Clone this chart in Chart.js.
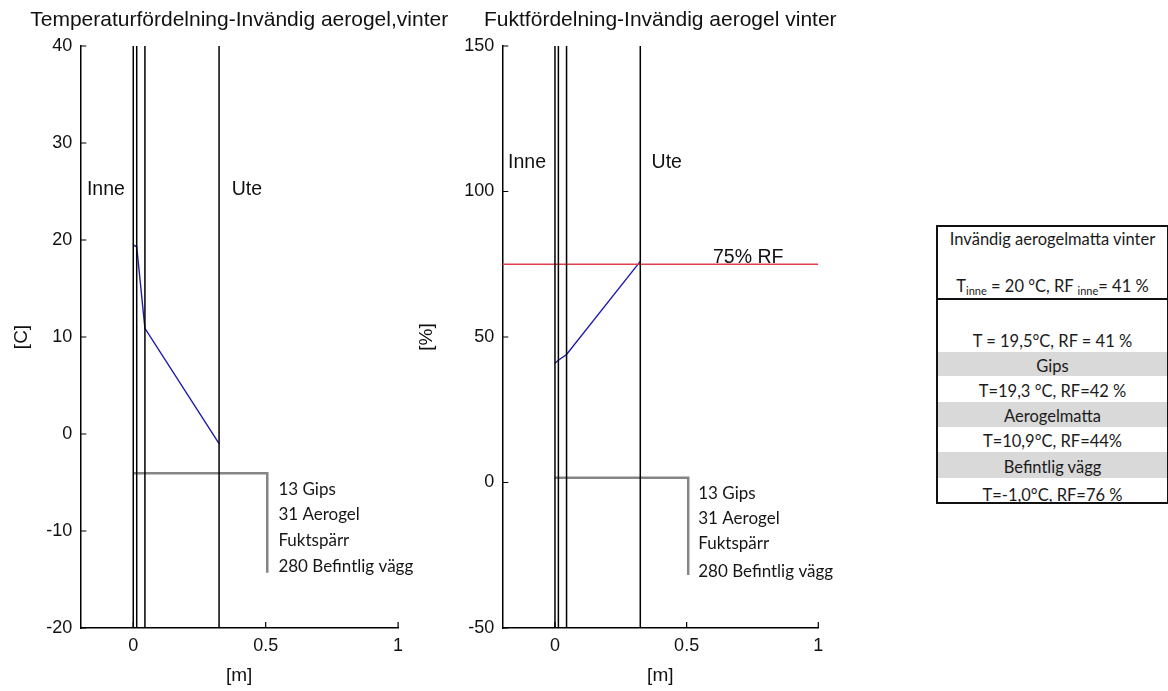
<!DOCTYPE html>
<html>
<head>
<meta charset="utf-8">
<script src="https://cdn.jsdelivr.net/npm/chart.js@4.4.1/dist/chart.umd.min.js"></script>
<style>
  html, body { margin: 0; padding: 0; background: #fff; }
  body { position: relative; width: 1168px; height: 691px; overflow: hidden; }
  canvas { position: absolute; top: 0; }
  #tempChart { left: 0; }
  #rhChart { left: 405px; }
  #summary {
    position: absolute; left: 936px; top: 225px; width: 233px;
    border: 2px solid #111; box-sizing: border-box;
    font-family: Lato, 'Open Sans', sans-serif; font-size: 16.5px; color: #1b1b1b;
    text-align: center;
  }
  #summary .row { position: relative; white-space: nowrap; overflow: hidden; }
  #summary .row span { position: relative; display: block; }
  #summary .band { background: #d9d9d9; }
  #summary .rule { height: 2px; background: #111; }
  #summary sub { font-size: 11px; vertical-align: -3px; line-height: 0; }
</style>
</head>
<body>
<canvas id="tempChart" width="460" height="691"></canvas>
<canvas id="rhChart" width="500" height="691"></canvas>
<div id="summary"></div>

<script>
// Boundaries through the wall [m]: inner face, gypsum/aerogel, aerogel/vapour barrier, outer face
const layerEdges = [0, 0.013, 0.044, 0.324];
// Temperature [°C] and relative humidity [%] at each boundary
const tempProfile = [19.5, 19.3, 10.9, -1.0];
const rhProfile = [41, 42, 44, 76];
// Critical humidity level [%]
const rhLimit = 75;
// Indoor climate
const indoorTemp = 20;
const indoorRh = 41;
// Layer names in the summary table and the layer key in the plots
const layerNames = ['Gips', 'Aerogelmatta', 'Befintlig vägg'];
const layerKey = ['13 Gips', '31 Aerogel', 'Fuktspärr', '280 Befintlig vägg'];
// Axis ticks
const xTicks = [0, 0.5, 1];
const tempTicks = [-20, -10, 0, 10, 20, 30, 40];
const rhTicks = [-50, 0, 50, 100, 150];

const PLOT_FONT = "'Liberation Sans', Arial, sans-serif";
const NOTE_FONT = "Lato, 'Open Sans', sans-serif";
const INK = '#111';

// Tick marks drawn on the inside of the axes
const innerTicks = {
  id: 'innerTicks',
  afterDraw(chart) {
    const { ctx, chartArea: a, scales: { x, y } } = chart;
    const len = 6;
    ctx.save();
    ctx.strokeStyle = '#000';
    ctx.lineWidth = 1.2;
    ctx.beginPath();
    y.ticks.forEach(t => {
      const py = y.getPixelForValue(t.value);
      ctx.moveTo(a.left, py); ctx.lineTo(a.left + len, py);
    });
    x.ticks.forEach(t => {
      const px = x.getPixelForValue(t.value);
      ctx.moveTo(px, a.bottom); ctx.lineTo(px, a.bottom - len);
    });
    ctx.stroke();
    ctx.restore();
  }
};

// Plot title centred over the axes, plus free text placed in data coordinates
function textLayer(title, items) {
  return {
    id: 'textLayer',
    afterDatasetsDraw(chart) {
      const { ctx, chartArea: a, scales: { x, y } } = chart;
      ctx.save();
      ctx.font = `21px ${PLOT_FONT}`;
      ctx.fillStyle = INK;
      ctx.textAlign = 'center';
      ctx.textBaseline = 'middle';
      ctx.fillText(title, (a.left + a.right) / 2, 20);
      items.forEach(it => {
        ctx.font = it.font;
        ctx.fillStyle = it.color || INK;
        ctx.textAlign = it.align || 'left';
        ctx.textBaseline = it.baseline || 'middle';
        ctx.fillText(it.text, x.getPixelForValue(it.x), y.getPixelForValue(it.y) + (it.dy || 0));
      });
      ctx.restore();
    }
  };
}

function line(points, color, width) {
  return { data: points, borderColor: color, borderWidth: width, showLine: true, pointRadius: 0, fill: false };
}

// Boundary lines across the full height of the plot
function edgeLines(yMin, yMax) {
  return layerEdges.map(e => line([{ x: e, y: yMin }, { x: e, y: yMax }], '#000', 1.5));
}

function profile(values) {
  return layerEdges.map((e, i) => ({ x: e, y: values[i] }));
}

// Leader line to the layer key
function keyBracket(yTop, yBottom) {
  return line([{ x: 0, y: yTop }, { x: 0.506, y: yTop }, { x: 0.506, y: yBottom }], '#858585', 2.5);
}

function keyText(x, ys) {
  return layerKey.map((t, i) => ({ text: t, x, y: ys[i], font: `17px ${NOTE_FONT}`, color: '#161616' }));
}

function buildChart(el, o) {
  return new Chart(el, {
    type: 'scatter',
    data: { datasets: o.datasets },
    options: {
      responsive: false,
      animation: false,
      devicePixelRatio: 1,
      locale: 'en-US',
      events: [],
      layout: { padding: { left: 0, top: 46, bottom: 0, right: o.padRight } },
      elements: { point: { radius: 0 }, line: { tension: 0 } },
      plugins: {
        legend: { display: false },
        tooltip: { enabled: false },
        title: { display: false }
      },
      scales: {
        x: {
          type: 'linear', min: -0.2, max: 1,
          afterBuildTicks: s => { s.ticks = xTicks.map(v => ({ value: v })); },
          afterFit: s => { s.height = 63; },
          grid: { display: false, drawTicks: false },
          border: { display: true, color: '#000', width: 1.5 },
          ticks: {
            color: INK, padding: 7, maxRotation: 0, autoSkip: false,
            font: { family: PLOT_FONT, size: 18 },
            callback: v => String(v)
          },
          title: { display: true, text: '[m]', color: INK, font: { family: PLOT_FONT, size: 19 }, padding: { top: 0, bottom: 3.6 } }
        },
        y: {
          type: 'linear', min: o.ticks[0], max: o.ticks[o.ticks.length - 1],
          afterBuildTicks: s => { s.ticks = o.ticks.map(v => ({ value: v })); },
          afterFit: s => { s.width = o.yWidth; },
          grid: { display: false, drawTicks: false },
          border: { display: true, color: '#000', width: 1.5 },
          ticks: {
            color: INK, padding: 8, autoSkip: false,
            font: { family: PLOT_FONT, size: 18 },
            callback: v => String(v)
          },
          title: { display: true, text: o.yTitle, color: INK, font: { family: PLOT_FONT, size: 19 }, padding: { top: 10.3, bottom: 0 } }
        }
      }
    },
    plugins: [innerTicks, textLayer(o.title, o.texts)]
  });
}

const labelFont = `19.5px ${PLOT_FONT}`;

// Temperature through the wall
buildChart(document.getElementById('tempChart'), {
  title: 'Temperaturfördelning-Invändig aerogel,vinter',
  yTitle: '[C]',
  ticks: tempTicks,
  yWidth: 80.3,
  padRight: 460 - 398.1,
  datasets: [
    ...edgeLines(tempTicks[0], tempTicks[tempTicks.length - 1]),
    line(profile(tempProfile), '#1d1da6', 1.4),
    keyBracket(-4.05, -14.3)
  ],
  texts: [
    { text: 'Inne', x: -0.175, y: 25.2, font: labelFont },
    { text: 'Ute', x: 0.372, y: 25.2, font: labelFont },
    ...keyText(0.548, [-5.77, -8.35, -10.93, -13.68])
  ]
});

// Relative humidity through the wall
buildChart(document.getElementById('rhChart'), {
  title: 'Fuktfördelning-Invändig aerogel vinter',
  yTitle: '[%]',
  ticks: rhTicks,
  yWidth: 97.3,
  padRight: 500 - (818.3 - 405),
  datasets: [
    ...edgeLines(rhTicks[0], rhTicks[rhTicks.length - 1]),
    line([{ x: -0.2, y: rhLimit }, { x: 1, y: rhLimit }], '#e0404c', 1.5),
    line(profile(rhProfile), '#1d1da6', 1.4),
    keyBracket(1.65, -31.8)
  ],
  texts: [
    { text: 'Inne', x: -0.178, y: 110, font: labelFont },
    { text: 'Ute', x: 0.367, y: 110, font: labelFont },
    { text: rhLimit + '% RF', x: 0.6, y: rhLimit, font: labelFont, baseline: 'alphabetic', dy: -1 },
    ...keyText(0.544, [-3.71, -12.3, -20.9, -30.65])
  ]
});

// Summary table: conditions at each boundary with the layer between them
const dec = v => v.toFixed(1).replace('.', ',');
const rowText = [
  (t, rf) => `T = ${dec(t)}°C, RF = ${rf} %`,
  (t, rf) => `T=${dec(t)} °C, RF=${rf} %`,
  (t, rf) => `T=${dec(t)}°C, RF=${rf}%`,
  (t, rf) => `T=${dec(t)}°C, RF=${rf} %`
];

const summary = document.getElementById('summary');
function addRow(html, height, cls, shift) {
  const d = document.createElement('div');
  d.className = 'row' + (cls ? ' ' + cls : '');
  d.style.height = height + 'px';
  d.style.lineHeight = height + 'px';
  d.innerHTML = `<span style="top:${shift || 0}px">${html}</span>`;
  summary.appendChild(d);
}
function addRule() {
  const d = document.createElement('div');
  d.className = 'rule';
  summary.appendChild(d);
}

addRow('Invändig aerogelmatta vinter', 24, '', 0);
addRow('', 24);
addRow(`T<sub>inne</sub> = ${indoorTemp} °C, RF <sub>inne</sub>= ${indoorRh} %`, 23, '', 0);
addRule();
addRow('', 26);
const rowHeights = [26, 26, 25, 24];
const bandHeights = [24, 25, 26];
tempProfile.forEach((t, i) => {
  addRow(rowText[i](t, rhProfile[i]), rowHeights[i], '', i === 3 ? 5 : 2);
  if (i < layerNames.length) addRow(layerNames[i], bandHeights[i], 'band', 2);
});
</script>
</body>
</html>
